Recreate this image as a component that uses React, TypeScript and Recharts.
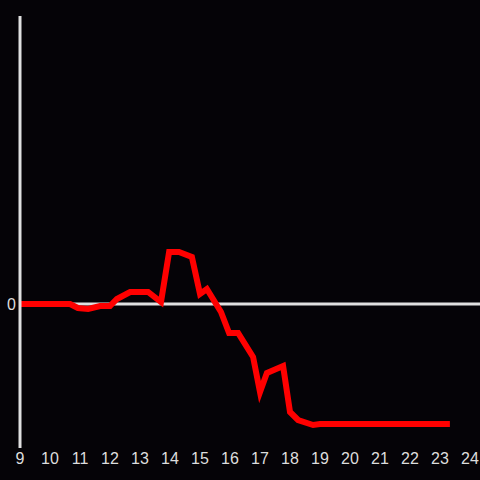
import React from "react";
import { LineChart, Line, XAxis, YAxis, ReferenceLine } from "recharts";

const hours = [9, 10.67, 10.93, 11.27, 11.67, 12, 12.23, 12.67, 13.27, 13.7, 13.97, 14.3, 14.73, 15, 15.23, 15.7, 15.97, 16.27, 16.77, 17, 17.23, 17.77, 18, 18.27, 18.77, 19, 23.33];
const values = [0, 0, -4, -5, -2, -2, 5, 12, 12, 2, 52, 52, 47, 10, 15, -8, -29, -29, -53, -88, -69, -62, -108, -116, -121, -120, -120];
const xTicks = [9, 10, 11, 12, 13, 14, 15, 16, 17, 18, 19, 20, 21, 22, 23, 24];
const yTicks = [0];

const data = hours.map((h, i) => ({ h, v: values[i] }));

const tickStyle = { fill: "#dddddd", fontSize: 16, fontFamily: "Liberation Sans, Arial, sans-serif" };

export default function App() {
  return (
    <div style={{ position: "absolute", left: 0, top: 0, width: 480, height: 480, background: "#050307" }}>
      <LineChart width={480} height={480} data={data} margin={{ top: 16, right: 10, left: 0, bottom: 0 }}>
        <XAxis
          dataKey="h"
          type="number"
          domain={[9, 24]}
          ticks={xTicks}
          axisLine={false}
          tickLine={false}
          tickSize={0}
          tickMargin={5}
          height={32}
          tick={tickStyle}
          interval={0}
        />
        <YAxis
          type="number"
          domain={[-144, 288]}
          ticks={yTicks}
          width={20}
          axisLine={{ stroke: "#e0e0e0", strokeWidth: 3 }}
          tickLine={false}
          tickSize={0}
          tickMargin={4}
          tick={tickStyle}
        />
        <ReferenceLine
          segment={[{ x: 9, y: 0 }, { x: 24.34, y: 0 }]}
          ifOverflow="visible"
          stroke="#e0e0e0"
          strokeWidth={3}
        />
        <Line
          dataKey="v"
          stroke="#ff0000"
          strokeWidth={6}
          dot={false}
          type="linear"
          isAnimationActive={false}
        />
      </LineChart>
    </div>
  );
}
